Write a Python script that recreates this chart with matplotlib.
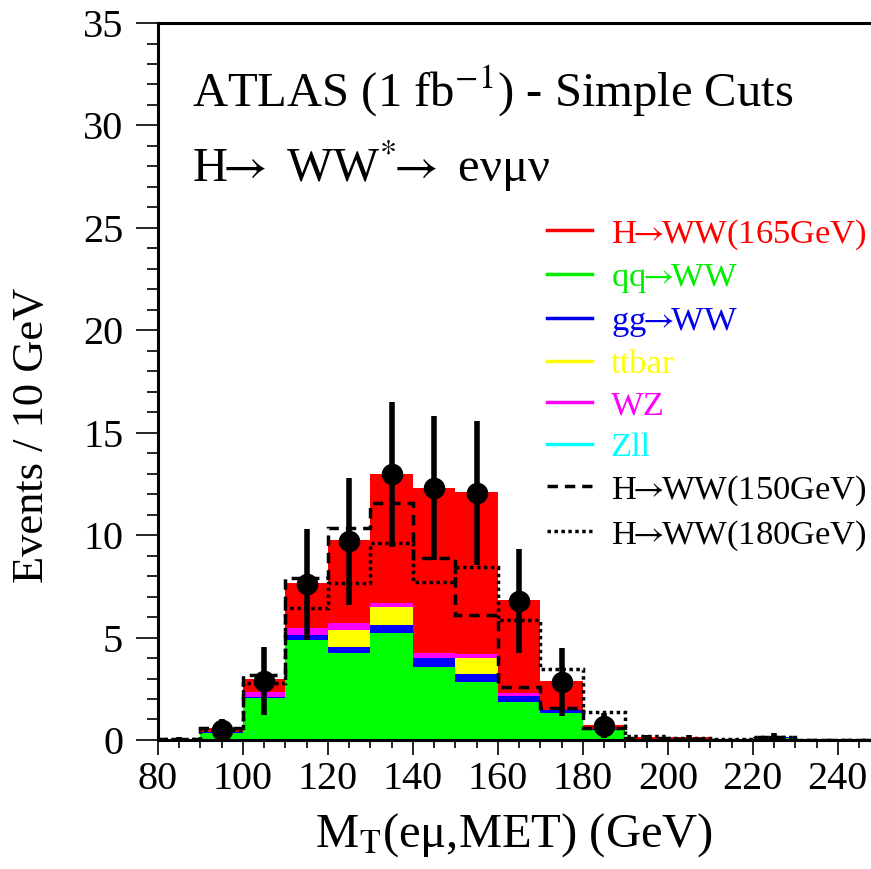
import numpy as np
import matplotlib
matplotlib.use("Agg")
import matplotlib.pyplot as plt
from matplotlib.lines import Line2D

plt.rcParams['font.family'] = ['Liberation Serif', 'DejaVu Serif']
plt.rcParams['mathtext.fontset'] = 'stix'

# 10 GeV bins, lower edges 80 ... 240
bin_low = [80, 90, 100, 110, 120, 130, 140, 150, 160, 170, 180, 190, 200, 210, 220, 230, 240]

qq_ww = [0.03, 0.34, 2.05, 4.88, 4.24, 5.20, 3.56, 2.83, 1.85, 1.30, 0.49, 0.05, 0.03, 0.01, 0.10, 0.01, 0.01]
gg_ww = [0.00, 0.04, 0.05, 0.24, 0.30, 0.40, 0.44, 0.37, 0.29, 0.16, 0.05, 0.02, 0.01, 0.01, 0.05, 0.00, 0.00]
ttbar = [0.00, 0.00, 0.00, 0.00, 0.83, 0.90, 0.00, 0.80, 0.00, 0.00, 0.00, 0.00, 0.00, 0.00, 0.00, 0.00, 0.00]
wz    = [0.00, 0.00, 0.25, 0.34, 0.33, 0.20, 0.24, 0.20, 0.16, 0.00, 0.00, 0.00, 0.00, 0.00, 0.00, 0.00, 0.00]
zll   = [0.00, 0.00, 0.00, 0.00, 0.00, 0.00, 0.00, 0.00, 0.00, 0.00, 0.00, 0.00, 0.00, 0.00, 0.00, 0.00, 0.00]
h165  = [0.03, 0.20, 0.62, 2.20, 4.06, 6.30, 8.06, 7.90, 4.53, 1.42, 0.19, 0.08, 0.08, 0.01, 0.00, 0.01, 0.01]
h150  = [0.02, 0.22, 0.82, 2.44, 4.64, 4.86, 4.66, 1.90, 0.30, 0.10, 0.06, 0.03, 0.02, 0.00, 0.00, 0.00, 0.00]
h180  = [0.01, 0.12, 0.43, 0.98, 1.96, 2.90, 3.46, 4.25, 3.55, 2.00, 0.83, 0.13, 0.06, 0.01, 0.00, 0.00, 0.00]

data     = [0.05, 0.50, 2.88, 7.60, 9.70, 12.97, 12.30, 12.05, 6.78, 2.83, 0.70, 0.10, 0.10, 0.00, 0.15, 0.00, 0.00]
data_err = [0.10, 0.50, 1.65, 2.70, 3.10, 3.55, 3.50, 3.50, 2.55, 1.65, 0.60, 0.15, 0.15, 0.00, 0.20, 0.00, 0.00]

edges = np.append(bin_low, bin_low[-1] + 10)
centers = np.array(bin_low) + 5

fig = plt.figure(figsize=(8.71, 8.69), dpi=100)
ax = fig.add_axes([0.1814, 0.1485, 0.8186, 0.825])

# stacked backgrounds plus the 165 GeV signal on top
components = [(qq_ww, '#00ff00'), (gg_ww, '#0000ff'), (ttbar, '#ffff00'),
              (wz, '#ff00ff'), (zll, '#00ffff'), (h165, '#ff0000')]
base = np.zeros(len(bin_low))
for vals, col in components:
    top = base + np.array(vals)
    ax.stairs(top, edges, baseline=base, fill=True, color=col, lw=0)
    base = top

bkg = np.array(qq_ww) + np.array(gg_ww) + np.array(ttbar) + np.array(wz) + np.array(zll)
ax.stairs(bkg + np.array(h150), edges, color='black', lw=2.5, ls=(0, (3, 2)))
ax.stairs(bkg + np.array(h180), edges, color='black', lw=2.5, ls=(0, (1, 1)))

# pseudo-data
data = np.array(data)
data_err = np.array(data_err)
has = data > 0
big = data > 0.3
ax.errorbar(centers[has], data[has], yerr=data_err[has], fmt='none',
            ecolor='black', elinewidth=4)
ax.plot(centers[big], data[big], 'o', color='black', ms=14.5)

ax.set_xlim(80, 247.8)
ax.set_ylim(0, 35)
ax.spines['right'].set_visible(False)
for s in ['left', 'top', 'bottom']:
    ax.spines[s].set_linewidth(2.2)

ax.set_xticks(np.arange(80, 241, 20))
ax.set_xticks(np.arange(80, 248, 5), minor=True)
ax.set_yticks(np.arange(0, 36, 5))
ax.set_yticks(np.arange(0, 36, 1), minor=True)
ax.tick_params(which='both', direction='out', width=1.2, labelsize=29)
ax.tick_params(which='major', length=11)
ax.tick_params(which='minor', length=6)
ax.tick_params(axis='y', which='major', length=16, pad=9)
ax.tick_params(axis='y', which='minor', length=8)
ax.tick_params(axis='x', pad=4)

ax.set_ylabel('Events / 10 GeV', fontsize=32)
ax.yaxis.set_label_coords(-0.148, 0.425)
ax.set_xlabel(r'M$_{\mathrm{T}}$(eμ,MET) (GeV)', fontsize=35, labelpad=10)

arrow = r'$\!\!\rightarrow\!\!$'
ax.text(0.047, 0.883, r'ATLAS (1 fb$^{\mathrm{-1}}$) - Simple Cuts', transform=ax.transAxes,
        fontsize=35, va='baseline')
ax.text(0.047, 0.778, r'H$\!\!\rightarrow$ WW$^{*}$$\!\!\rightarrow$ eνμν', transform=ax.transAxes,
        fontsize=35, va='baseline')

labels = ['H' + arrow + 'WW(165GeV)', 'qq' + arrow + 'WW', 'gg' + arrow + 'WW', 'ttbar', 'WZ', 'Zll',
          'H' + arrow + 'WW(150GeV)', 'H' + arrow + 'WW(180GeV)']
colors = ['#ff0000', '#00ee00', '#0000ee', '#ffff00', '#ff00ff', '#00ffff', 'black', 'black']
styles = ['-'] * 6 + [(0, (3, 2)), (0, (1, 1))]
handles = [Line2D([], [], color=c, lw=2.5, ls=s) for c, s in zip(colors, styles)]
ax.legend(handles, labels, loc='upper left', bbox_to_anchor=(0.628, 0.75),
          bbox_transform=fig.transFigure, frameon=False, fontsize=24.8,
          handlelength=1.3, handletextpad=0.55, labelspacing=0.3,
          labelcolor=colors, borderpad=0, borderaxespad=0)

fig.savefig('out.png', dpi=100)
